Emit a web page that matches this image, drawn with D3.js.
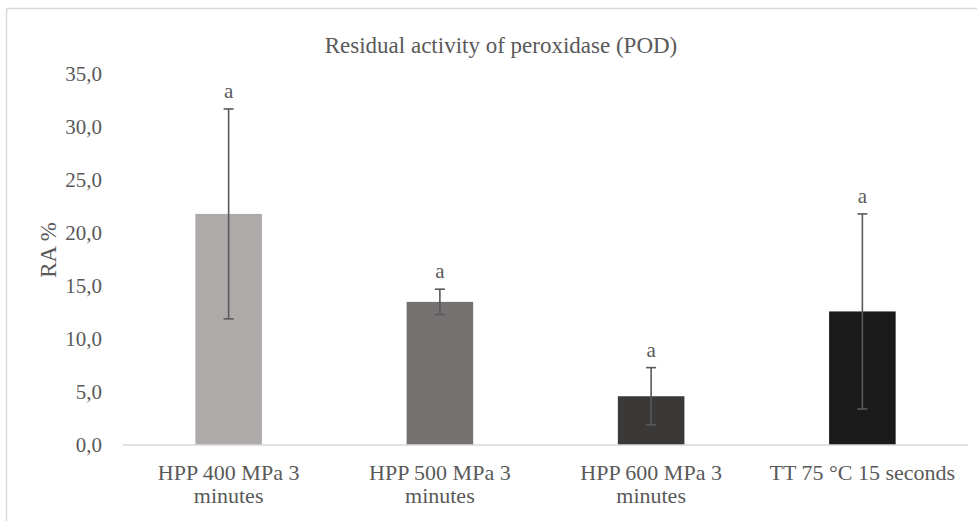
<!DOCTYPE html>
<html>
<head>
<meta charset="utf-8">
<script src="https://cdn.jsdelivr.net/npm/d3@7"></script>
<style>
  body { margin: 0; background: #fff; }
  svg { display: block; }
</style>
</head>
<body>
<svg id="chart" width="977" height="521"></svg>
<script>
// Treatment groups (x-axis labels, split onto lines)
const categories = [
  ["HPP 400 MPa 3", "minutes"],
  ["HPP 500 MPa 3", "minutes"],
  ["HPP 600 MPa 3", "minutes"],
  ["TT 75 °C 15 seconds"]
];
// Mean residual activity (%) and standard deviation
const meanRA = [21.8, 13.5, 4.6, 12.6];
const sdRA = [9.9, 1.2, 2.7, 9.2];
// Significance letters
const letters = ["a", "a", "a", "a"];
// Bar fills
const barColors = ["#aeaaaa", "#757171", "#3b3838", "#1a1a1a"];
// Y-axis ticks
const yTicks = [0, 5, 10, 15, 20, 25, 30, 35];

const FONT = "'Liberation Serif', 'Times New Roman', Times, 'DejaVu Serif', serif";
const INK = "#595959";

const svg = d3.select("#chart");
const W = 977, H = 521;
const margin = { left: 123, right: 9, top: 74, bottom: 76 };

// Chart frame (top and left edges visible)
svg.append("line").attr("x1", 6.5).attr("x2", W).attr("y1", 8.5).attr("y2", 8.5)
  .attr("stroke", "#d9d9d9").attr("stroke-width", 1.5);
svg.append("line").attr("x1", 6.5).attr("x2", 6.5).attr("y1", 8.5).attr("y2", H)
  .attr("stroke", "#d9d9d9").attr("stroke-width", 1.5);

const x = d3.scaleBand()
  .domain(d3.range(categories.length))
  .range([margin.left, W - margin.right])
  .paddingInner(0).paddingOuter(0);

const y = d3.scaleLinear()
  .domain([0, 35])
  .range([H - margin.bottom, margin.top]);

const barW = x.bandwidth() * 0.315;

function styleText(sel, size) {
  return sel.style("font-family", FONT).style("font-size", size + "px").style("fill", INK);
}

// Title
styleText(svg.append("text")
  .attr("x", 501).attr("y", 53)
  .attr("text-anchor", "middle"), 23)
  .text("Residual activity of peroxidase (POD)");

// Y axis labels
const fmt = v => d3.format(".1f")(v).replace(".", ",");
const yAxis = d3.axisLeft(y).tickValues(yTicks).tickFormat(fmt).tickSize(0).tickPadding(0);
const gy = svg.append("g").attr("transform", `translate(102,0)`).call(yAxis);
gy.select(".domain").remove();
styleText(gy.selectAll("text"), 21);

// Y axis title
styleText(svg.append("text")
  .attr("transform", `translate(56,250) rotate(-90)`)
  .attr("text-anchor", "middle"), 23)
  .text("RA %");

// Bars
svg.selectAll("rect.bar")
  .data(meanRA)
  .join("rect")
  .attr("class", "bar")
  .attr("x", (d, i) => x(i) + x.bandwidth() / 2 - barW / 2)
  .attr("width", barW)
  .attr("y", d => y(d))
  .attr("height", d => y(0) - y(d))
  .attr("fill", (d, i) => barColors[i]);

// Baseline
svg.append("line")
  .attr("x1", margin.left).attr("x2", W - margin.right)
  .attr("y1", y(0)).attr("y2", y(0))
  .attr("stroke", "#d9d9d9").attr("stroke-width", 1.5);

// Error bars
const cx = i => x(i) + x.bandwidth() / 2;
const eb = svg.append("g").attr("stroke", INK).attr("stroke-width", 1.6);
meanRA.forEach((m, i) => {
  const lo = y(m - sdRA[i]), hi = y(m + sdRA[i]);
  eb.append("line").attr("x1", cx(i)).attr("x2", cx(i)).attr("y1", lo).attr("y2", hi);
  eb.append("line").attr("x1", cx(i) - 5).attr("x2", cx(i) + 5).attr("y1", lo).attr("y2", lo);
  eb.append("line").attr("x1", cx(i) - 5).attr("x2", cx(i) + 5).attr("y1", hi).attr("y2", hi);
});

// Significance letters
styleText(svg.selectAll("text.letter")
  .data(letters)
  .join("text")
  .attr("class", "letter")
  .attr("x", (d, i) => cx(i))
  .attr("y", (d, i) => y(meanRA[i] + sdRA[i]) - 11)
  .attr("text-anchor", "middle"), 21)
  .text(d => d);

// X axis labels
const gx = svg.append("g");
categories.forEach((lines, i) => {
  const t = styleText(gx.append("text")
    .attr("x", cx(i)).attr("y", 480)
    .attr("text-anchor", "middle"), 22);
  lines.forEach((ln, k) => {
    t.append("tspan").attr("x", cx(i)).attr("dy", k === 0 ? 0 : 23).text(ln);
  });
});
</script>
</body>
</html>
